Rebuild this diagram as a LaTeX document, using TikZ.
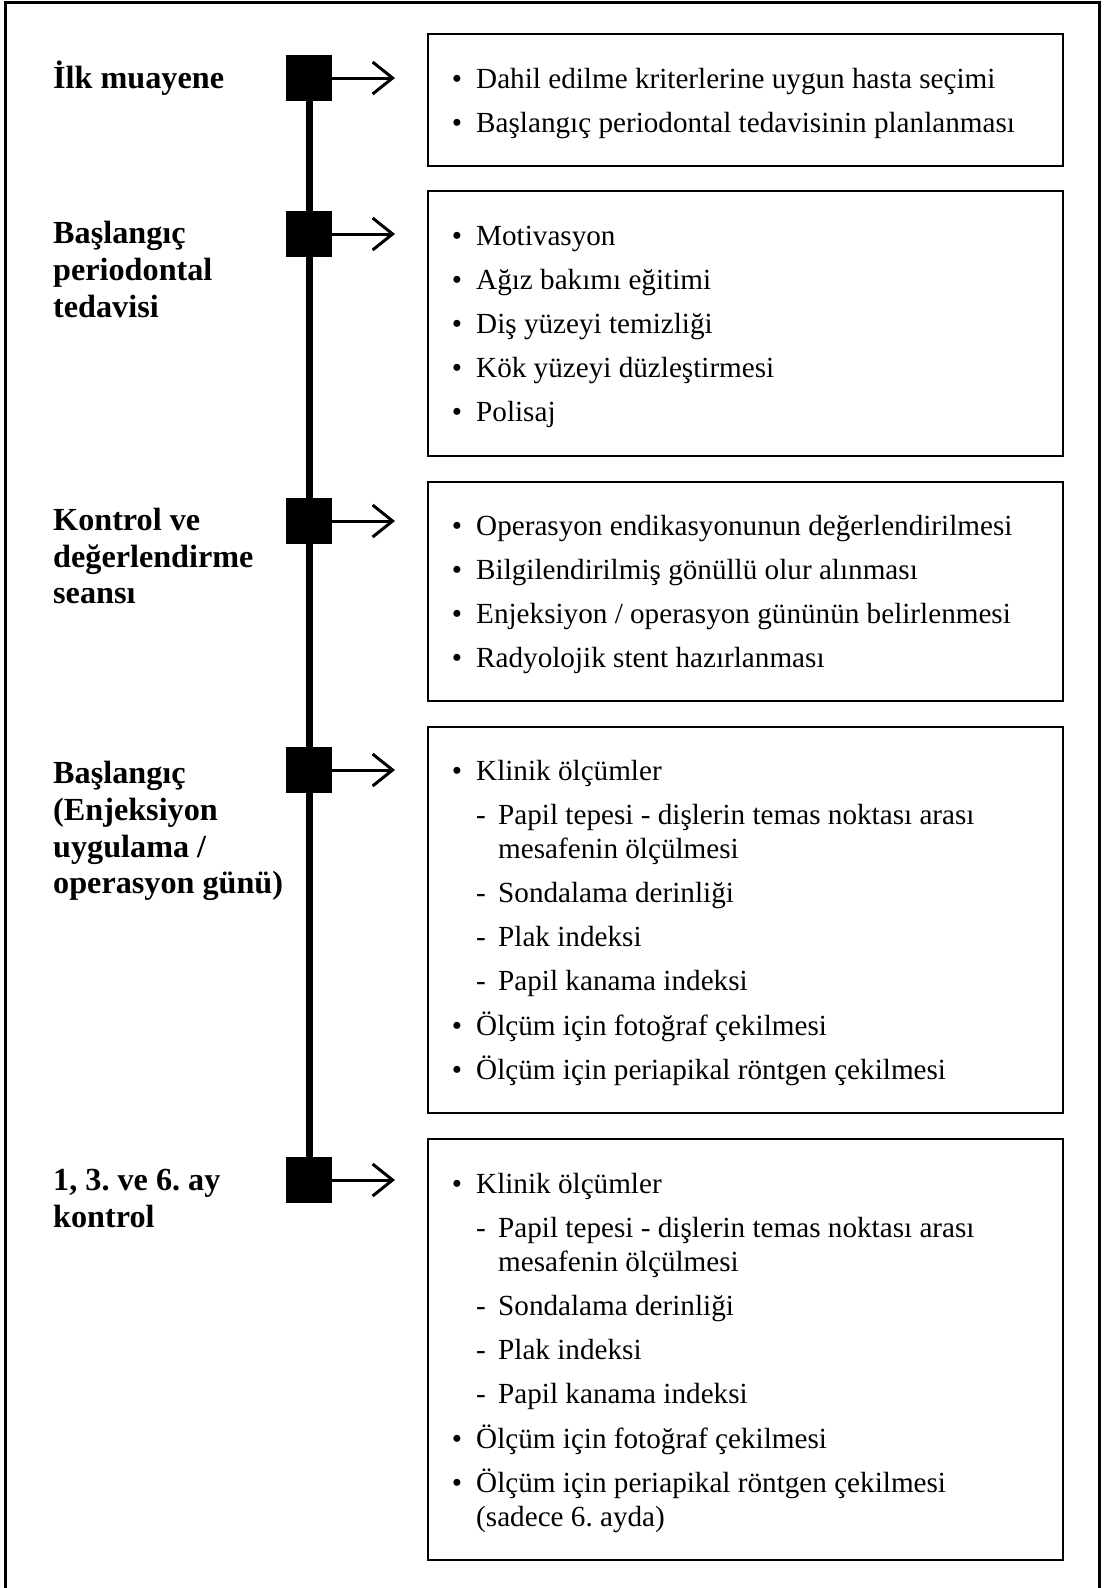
\documentclass[tikz,border=0pt]{standalone}
\usepackage{fontspec}
\setmainfont{Liberation Serif}
\usetikzlibrary{arrows.meta}
\frenchspacing
\newcommand{\fs}{\fontsize{29.17pt}{34pt}\selectfont}
\newcommand{\fb}{\fontsize{32.2pt}{36.8pt}\selectfont\bfseries}
\tikzset{
  lbl/.style={anchor=base west, inner sep=0pt, font=\fb},
  itm/.style={anchor=base west, inner sep=0pt, font=\fs},
  bul/.style={anchor=base, inner sep=0pt, font=\fs},
  stagebox/.style={draw, line width=2pt, inner sep=0pt, fill=none},
  marker/.style={fill=black, minimum size=46pt, inner sep=0pt},
  arr/.style={line width=3pt, -{Straight Barb[length=20pt,width=32pt]}},
  tline/.style={line width=7pt},
  frame/.style={line width=3pt}
}
\begin{document}
\begin{tikzpicture}[x=1pt,y=-1pt]
\useasboundingbox (0,0) rectangle (1105,1588);
\fill[white] (0,0) rectangle (1105,1588);
\draw[frame] (5,1600) -- (5,2.5) -- (1099.5,2.5) -- (1099.5,1600);

% markers
\node[marker] (m1) at (309,78) {};
\node[marker] (m2) at (309,234) {};
\node[marker] (m3) at (309,521) {};
\node[marker] (m4) at (309,770) {};
\node[marker] (m5) at (309,1180) {};
\draw[tline] (m1.center) -- (m5.center);

% arrow ends
\coordinate (a1) at (395,78);
\coordinate (a2) at (395,234);
\coordinate (a3) at (395,521);
\coordinate (a4) at (395,770);
\coordinate (a5) at (395,1180);
\draw[arr] (m1.east) -- (a1);
\draw[arr] (m2.east) -- (a2);
\draw[arr] (m3.east) -- (a3);
\draw[arr] (m4.east) -- (a4);
\draw[arr] (m5.east) -- (a5);

% boxes
\node[stagebox, minimum width=635pt, minimum height=132pt] (b1) at (745.5,100) {};
\node[stagebox, minimum width=635pt, minimum height=265pt] (b2) at (745.5,323.5) {};
\node[stagebox, minimum width=635pt, minimum height=219pt] (b3) at (745.5,591.5) {};
\node[stagebox, minimum width=635pt, minimum height=386pt] (b4) at (745.5,920) {};
\node[stagebox, minimum width=635pt, minimum height=421pt] (b5) at (745.5,1349.5) {};

% labels
\node[lbl] (l1a) at (53,88) {İlk muayene};
\node[lbl] (l2a) at (53,243) {Başlangıç};
\node[lbl] (l2b) at (53,280) {periodontal};
\node[lbl] (l2c) at (53,317) {tedavisi};
\node[lbl] (l3a) at (53,530) {Kontrol ve};
\node[lbl] (l3b) at (53,567) {değerlendirme};
\node[lbl] (l3c) at (53,603) {seansı};
\node[lbl] (l4a) at (53,783) {Başlangıç};
\node[lbl] (l4b) at (53,820) {(Enjeksiyon};
\node[lbl] (l4c) at (53,857) {uygulama /};
\node[lbl] (l4d) at (53,893) {operasyon günü)};
\node[lbl] (l5a) at (53,1190) {1, 3. ve 6. ay};
\node[lbl] (l5b) at (53,1227) {kontrol};

% box 1
\node[bul] (p1a) at (457,88) {•};
\node[itm] (t1a) at (476,88) {Dahil edilme kriterlerine uygun hasta seçimi};
\node[bul] (p1b) at (457,132.2) {•};
\node[itm] (t1b) at (476,132.2) {Başlangıç periodontal tedavisinin planlanması};

% box 2
\node[bul] (p2a) at (457,245) {•};
\node[itm] (t2a) at (476,245) {Motivasyon};
\node[bul] (p2b) at (457,289.2) {•};
\node[itm] (t2b) at (476,289.2) {Ağız bakımı eğitimi};
\node[bul] (p2c) at (457,333.4) {•};
\node[itm] (t2c) at (476,333.4) {Diş yüzeyi temizliği};
\node[bul] (p2d) at (457,377.6) {•};
\node[itm] (t2d) at (476,377.6) {Kök yüzeyi düzleştirmesi};
\node[bul] (p2e) at (457,421.8) {•};
\node[itm] (t2e) at (476,421.8) {Polisaj};

% box 3
\node[bul] (p3a) at (457,535) {•};
\node[itm] (t3a) at (476,535) {Operasyon endikasyonunun değerlendirilmesi};
\node[bul] (p3b) at (457,579.2) {•};
\node[itm] (t3b) at (476,579.2) {Bilgilendirilmiş gönüllü olur alınması};
\node[bul] (p3c) at (457,623.4) {•};
\node[itm] (t3c) at (476,623.4) {Enjeksiyon / operasyon gününün belirlenmesi};
\node[bul] (p3d) at (457,667.6) {•};
\node[itm] (t3d) at (476,667.6) {Radyolojik stent hazırlanması};

% box 4
\node[bul] (p4a) at (457,780) {•};
\node[itm] (t4a) at (476,780) {Klinik ölçümler};
\node[bul] (d4a) at (481,824.2) {-};
\node[itm] (t4b) at (498,824.2) {Papil tepesi - dişlerin temas noktası arası};
\node[itm] (t4c) at (498,858.2) {mesafenin ölçülmesi};
\node[bul] (d4b) at (481,902.4) {-};
\node[itm] (t4d) at (498,902.4) {Sondalama derinliği};
\node[bul] (d4c) at (481,946.6) {-};
\node[itm] (t4e) at (498,946.6) {Plak indeksi};
\node[bul] (d4d) at (481,990.8) {-};
\node[itm] (t4f) at (498,990.8) {Papil kanama indeksi};
\node[bul] (p4b) at (457,1035) {•};
\node[itm] (t4g) at (476,1035) {Ölçüm için fotoğraf çekilmesi};
\node[bul] (p4c) at (457,1079.2) {•};
\node[itm] (t4h) at (476,1079.2) {Ölçüm için periapikal röntgen çekilmesi};

% box 5
\node[bul] (p5a) at (457,1193) {•};
\node[itm] (t5a) at (476,1193) {Klinik ölçümler};
\node[bul] (d5a) at (481,1237.2) {-};
\node[itm] (t5b) at (498,1237.2) {Papil tepesi - dişlerin temas noktası arası};
\node[itm] (t5c) at (498,1271.2) {mesafenin ölçülmesi};
\node[bul] (d5b) at (481,1315.4) {-};
\node[itm] (t5d) at (498,1315.4) {Sondalama derinliği};
\node[bul] (d5c) at (481,1359.6) {-};
\node[itm] (t5e) at (498,1359.6) {Plak indeksi};
\node[bul] (d5d) at (481,1403.8) {-};
\node[itm] (t5f) at (498,1403.8) {Papil kanama indeksi};
\node[bul] (p5b) at (457,1448) {•};
\node[itm] (t5g) at (476,1448) {Ölçüm için fotoğraf çekilmesi};
\node[bul] (p5c) at (457,1492.2) {•};
\node[itm] (t5h) at (476,1492.2) {Ölçüm için periapikal röntgen çekilmesi};
\node[itm] (t5i) at (476,1526.2) {(sadece 6. ayda)};
\end{tikzpicture}
\end{document}
